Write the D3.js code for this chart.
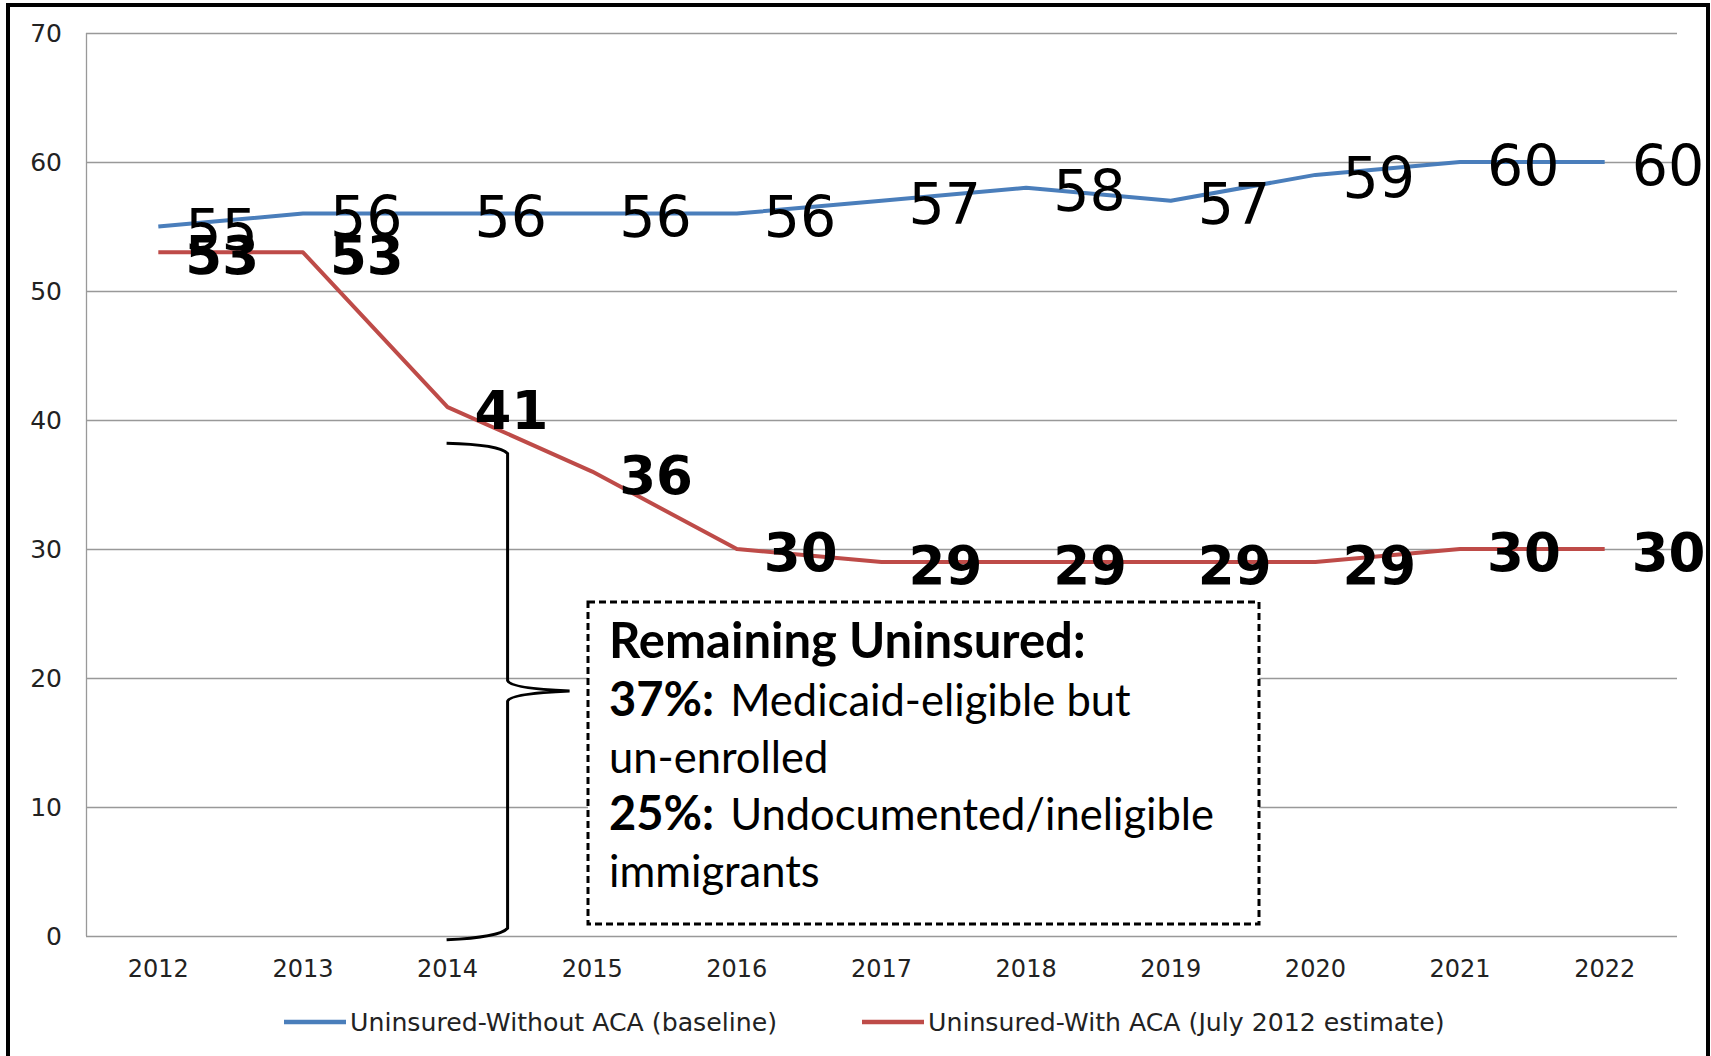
<!DOCTYPE html>
<html>
<head>
<meta charset="utf-8">
<script src="https://cdn.jsdelivr.net/npm/d3@7"></script>
<style>
  html, body { margin: 0; padding: 0; background: #fff; }
  svg { display: block; }
</style>
</head>
<body>
<div id="chart"></div>
<script>
// Chart data
const years = ['2012', '2013', '2014', '2015', '2016', '2017', '2018', '2019', '2020', '2021', '2022'];
const withoutACA = [55, 56, 56, 56, 56, 57, 58, 57, 59, 60, 60];
const withACA = [53, 53, 41, 36, 30, 29, 29, 29, 29, 30, 30];
const yTicks = [0, 10, 20, 30, 40, 50, 60, 70];
const seriesNames = ['Uninsured-Without ACA (baseline)', 'Uninsured-With ACA (July 2012 estimate)'];
const calloutTitle = 'Remaining Uninsured:';
const calloutLines = [
  { bold: '37%:', text: 'Medicaid-eligible but' },
  { bold: '', text: 'un-enrolled' },
  { bold: '25%:', text: 'Undocumented/ineligible' },
  { bold: '', text: 'immigrants' }
];

const W = 1711, H = 1056;
const margin = { top: 33, right: 34, bottom: 120, left: 86 };
const blue = '#4a7ebb', red = '#be4b48';
const axisFont = 'DejaVu Sans, Verdana, sans-serif';
const boxFont = 'Lato, "Open Sans", sans-serif';

const svg = d3.select('#chart').append('svg')
  .attr('width', W)
  .attr('height', H);

// outer frame (bottom edge falls outside the picture)
svg.append('rect')
  .attr('x', 8).attr('y', 5)
  .attr('width', 1700).attr('height', 1100)
  .attr('fill', 'none')
  .attr('stroke', '#000')
  .attr('stroke-width', 4);

const x = d3.scaleBand().domain(years).range([margin.left, W - margin.right]);
const y = d3.scaleLinear().domain([0, 70]).range([H - margin.bottom, margin.top]);
const cx = d => x(d) + x.bandwidth() / 2;

// gridlines
svg.append('g')
  .selectAll('line')
  .data(yTicks)
  .join('line')
  .attr('x1', margin.left).attr('x2', W - margin.right)
  .attr('y1', d => Math.round(y(d)) + 0.5).attr('y2', d => Math.round(y(d)) + 0.5)
  .attr('stroke', '#999')
  .attr('stroke-width', 1.3);

// left axis line
svg.append('line')
  .attr('x1', margin.left + 0.5).attr('x2', margin.left + 0.5)
  .attr('y1', y(70)).attr('y2', y(0))
  .attr('stroke', '#999')
  .attr('stroke-width', 1.3);

// y tick labels
svg.append('g')
  .selectAll('text')
  .data(yTicks)
  .join('text')
  .attr('x', 62)
  .attr('y', d => y(d))
  .attr('dy', '0.36em')
  .attr('text-anchor', 'end')
  .attr('font-family', axisFont)
  .attr('font-size', 25)
  .attr('fill', '#222')
  .text(d => d);

// x tick labels
svg.append('g')
  .selectAll('text')
  .data(years)
  .join('text')
  .attr('x', d => cx(d))
  .attr('y', y(0) + 32)
  .attr('dy', '0.36em')
  .attr('text-anchor', 'middle')
  .attr('font-family', axisFont)
  .attr('font-size', 24)
  .attr('fill', '#222')
  .text(d => d);

// lines
const line = d3.line()
  .x((d, i) => cx(years[i]))
  .y(d => y(d));

[[withoutACA, blue], [withACA, red]].forEach(([vals, col]) => {
  svg.append('path')
    .datum(vals)
    .attr('d', line)
    .attr('fill', 'none')
    .attr('stroke', col)
    .attr('stroke-width', 4)
    .attr('stroke-linejoin', 'round');
});

// data labels, to the right of each point
function labels(vals, weight, size) {
  svg.append('g')
    .selectAll('text')
    .data(vals)
    .join('text')
    .attr('x', (d, i) => cx(years[i]) + 27)
    .attr('y', d => y(d) + 3)
    .attr('dy', '0.36em')
    .attr('font-family', axisFont)
    .attr('font-weight', weight)
    .attr('font-size', size)
    .attr('fill', '#000')
    .text(d => d);
}
labels(withoutACA, 'normal', 57);
labels(withACA, 'bold', 53);

// legend
const legend = svg.append('g').attr('transform', `translate(0, ${y(0) + 86})`);
const legendItems = [
  { name: seriesNames[0], color: blue, x0: 284 },
  { name: seriesNames[1], color: red, x0: 862 }
];
legendItems.forEach(it => {
  legend.append('line')
    .attr('x1', it.x0).attr('x2', it.x0 + 62)
    .attr('stroke', it.color)
    .attr('stroke-width', 4.5);
  legend.append('text')
    .attr('x', it.x0 + 66)
    .attr('dy', '0.36em')
    .attr('font-family', axisFont)
    .attr('font-size', 25.2)
    .attr('fill', '#222')
    .text(it.name);
});

// curly brace spanning the remaining uninsured
const bx = cx('2014');
const brace = d3.path();
brace.moveTo(bx - 1, y(38.2));
brace.quadraticCurveTo(bx + 52, y(38.1), bx + 60, y(37.4));
brace.lineTo(bx + 60, y(19.8));
brace.quadraticCurveTo(bx + 62, y(19.2), bx + 122, y(19));
brace.quadraticCurveTo(bx + 62, y(18.8), bx + 60, y(18.2));
brace.lineTo(bx + 60, y(0.6));
brace.quadraticCurveTo(bx + 52, y(-0.1), bx - 1, y(-0.3));
svg.append('path')
  .attr('d', brace.toString())
  .attr('fill', 'none')
  .attr('stroke', '#000')
  .attr('stroke-width', 3);

// callout box
const box = { x: 588, y: 602, w: 671, h: 322 };
svg.append('rect')
  .attr('x', box.x).attr('y', box.y)
  .attr('width', box.w).attr('height', box.h)
  .attr('fill', '#fff')
  .attr('stroke', '#000')
  .attr('stroke-width', 3)
  .attr('stroke-dasharray', '7,4');

const tx = box.x + 21;
svg.append('text')
  .attr('x', tx).attr('y', 658)
  .attr('font-family', boxFont)
  .attr('font-weight', 'bold')
  .attr('font-size', 49)
  .attr('fill', '#000')
  .text(calloutTitle);

calloutLines.forEach((ln, i) => {
  const t = svg.append('text')
    .attr('x', tx).attr('y', 716 + i * 57)
    .attr('font-family', boxFont)
    .attr('font-size', 43.5)
    .attr('fill', '#000');
  if (ln.bold) {
    t.append('tspan').attr('font-weight', 'bold').attr('font-size', 47).text(ln.bold);
    t.append('tspan').attr('dx', 16).text(ln.text);
  } else {
    t.append('tspan').text(ln.text);
  }
});
</script>
</body>
</html>
